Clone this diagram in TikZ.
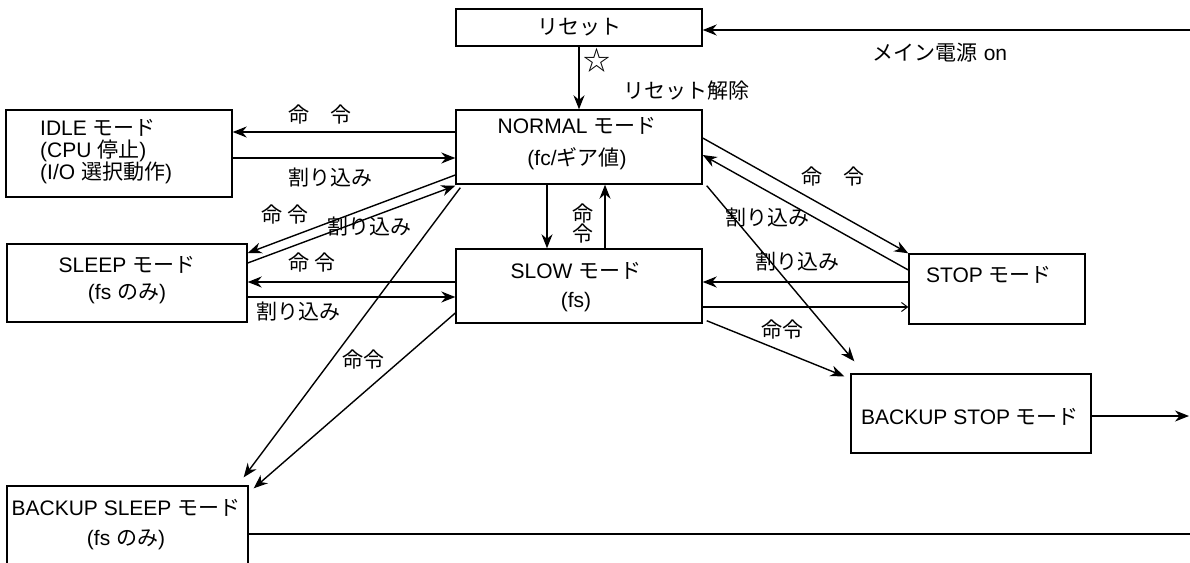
\documentclass[tikz,border=0pt]{standalone}
\usepackage{fontspec}
\setmainfont{Liberation Sans}
\newfontfamily\jp{Noto Sans CJK JP}
\usetikzlibrary{arrows.meta}
\begin{document}
\begin{tikzpicture}[x=1pt,y=-1pt,
  box/.style={draw,line width=1.4pt,inner sep=0pt,anchor=center},
  txt/.style={inner sep=0pt,font=\fontsize{21}{24}\selectfont,align=center},
  arr/.style={line width=1.4pt,-{Stealth[length=14pt,width=11pt,inset=4.5pt]}},
  thinarr/.style={line width=1.4pt,-{Straight Barb[length=6pt,width=9pt,line width=1pt]}},
  ln/.style={line width=1.4pt}]
\useasboundingbox (0,0) rectangle (1190,562);
% boxes
\node[box,minimum width=246pt,minimum height=37pt] (reset) at (579,27.5) {};
\node[box,minimum width=226pt,minimum height=87pt] (idle) at (119,153.5) {};
\node[box,minimum width=246pt,minimum height=74pt] (normal) at (579,147) {};
\node[box,minimum width=240pt,minimum height=78pt] (sleep) at (127,283) {};
\node[box,minimum width=246pt,minimum height=74pt] (slow) at (579,286) {};
\node[box,minimum width=176pt,minimum height=70pt] (stop) at (997,289) {};
\node[box,minimum width=240pt,minimum height=79pt] (bstop) at (971,413.5) {};
\node[box,minimum width=241pt,minimum height=114pt] (bsleep) at (127.5,543) {};
% box texts
\node[txt] (treset) at (579,27.5) {\jp リセット};
\node[txt,anchor=west,align=left,font=\fontsize{21}{22}\selectfont] (tidle) at (40,152) {IDLE {\jp モード}\\(CPU {\jp 停止})\\(I/O {\jp 選択動作})};
\node[txt,font=\fontsize{21}{32}\selectfont] (tnormal) at (577,144) {NORMAL {\jp モード}\\(fc/{\jp ギア値})};
\node[txt,font=\fontsize{21}{27}\selectfont] (tsleep) at (127,280) {SLEEP {\jp モード}\\(fs {\jp のみ})};
\node[txt,font=\fontsize{21}{29}\selectfont] (tslow) at (576,287) {SLOW {\jp モード}\\(fs)};
\node[txt] (tstop) at (989,275) {STOP {\jp モード}};
\node[txt] (tbstop) at (970,417) {BACKUP STOP {\jp モード}};
\node[txt,font=\fontsize{21}{30}\selectfont] (tbsleep) at (126,525) {BACKUP SLEEP {\jp モード}\\(fs {\jp のみ})};
% free ends
\coordinate (pwr) at (1190,30);
\coordinate (bsout) at (1189,416);
\coordinate (bslout) at (1190,534);
% connectors
\draw[arr] (pwr) -- (pwr -| reset.east);
\draw[arr] (reset.south) -- (normal.north);
\draw[arr] ([yshift=15pt]normal.west) -- ([yshift=21.5pt]idle.east);
\draw[arr] ([yshift=-4.5pt]idle.east) -- ([yshift=-11pt]normal.west);
\draw[arr] ([yshift=-28pt]normal.west) -- ([yshift=30pt]sleep.east);
\draw[arr] ([yshift=20pt]sleep.east) -- ([yshift=-1pt]normal.south west);
\draw[arr] ([xshift=-32pt]normal.south) -- ([xshift=-32pt]slow.north);
\draw[arr] ([xshift=26pt]slow.north) -- ([xshift=26pt]normal.south);
\draw[arr] ([yshift=4pt]slow.west) -- ([yshift=1pt]sleep.east);
\draw[arr] ([yshift=-14pt]sleep.east) -- ([yshift=-11pt]slow.west);
\draw[arr] ([xshift=5pt,yshift=-3pt]normal.south west) -- ([xshift=-5pt,yshift=8pt]bsleep.north east);
\draw[arr] ([yshift=-27pt]slow.west) -- ([xshift=5pt,yshift=-3pt]bsleep.north east);
\draw[arr] ([yshift=9pt]normal.east) -- (stop.north west);
\draw[arr] ([yshift=19pt]stop.west) -- ([yshift=-8pt]normal.east);
\draw[arr] ([yshift=7pt]stop.west) -- ([yshift=4pt]slow.east);
\draw[thinarr] ([yshift=-21pt]slow.east) -- ([yshift=-18pt]stop.west);
\draw[arr] ([xshift=4pt,yshift=-1pt]normal.south east) -- ([xshift=4pt,yshift=12pt]bstop.north west);
\draw[arr] ([xshift=4pt,yshift=3pt]slow.south east) -- ([xshift=-6pt,yshift=-3pt]bstop.north west);
\draw[arr] ([yshift=-2.5pt]bstop.east) -- (bsout);
\draw[ln] (bsleep.east |- bslout) -- (bslout);
% labels
\node[txt] (lpwr) at (940,53) {{\jp メイン電源} on};
\node[txt,font=\fontsize{27}{30}\selectfont] (lstar) at (597,60) {\jp ☆};
\node[txt] (lrel) at (686,91) {\jp リセット解除};
\node[txt] (l1) at (320,115) {\jp 命　令};
\node[txt] (l2) at (330,178) {\jp 割り込み};
\node[txt] (l3) at (285,215) {\jp 命 令};
\node[txt] (l4) at (369,227) {\jp 割り込み};
\node[txt,font=\fontsize{21}{20}\selectfont] (l5) at (583,223) {{\jp 命}\\{\jp 令}};
\node[txt] (l6) at (312,263) {\jp 命 令};
\node[txt] (l7) at (298,312) {\jp 割り込み};
\node[txt] (l8) at (363,360) {\jp 命令};
\node[txt] (l9) at (833,177) {\jp 命　令};
\node[txt] (l10) at (767,218) {\jp 割り込み};
\node[txt] (l11) at (797,262) {\jp 割り込み};
\node[txt] (l12) at (782,330) {\jp 命令};
\end{tikzpicture}
\end{document}
